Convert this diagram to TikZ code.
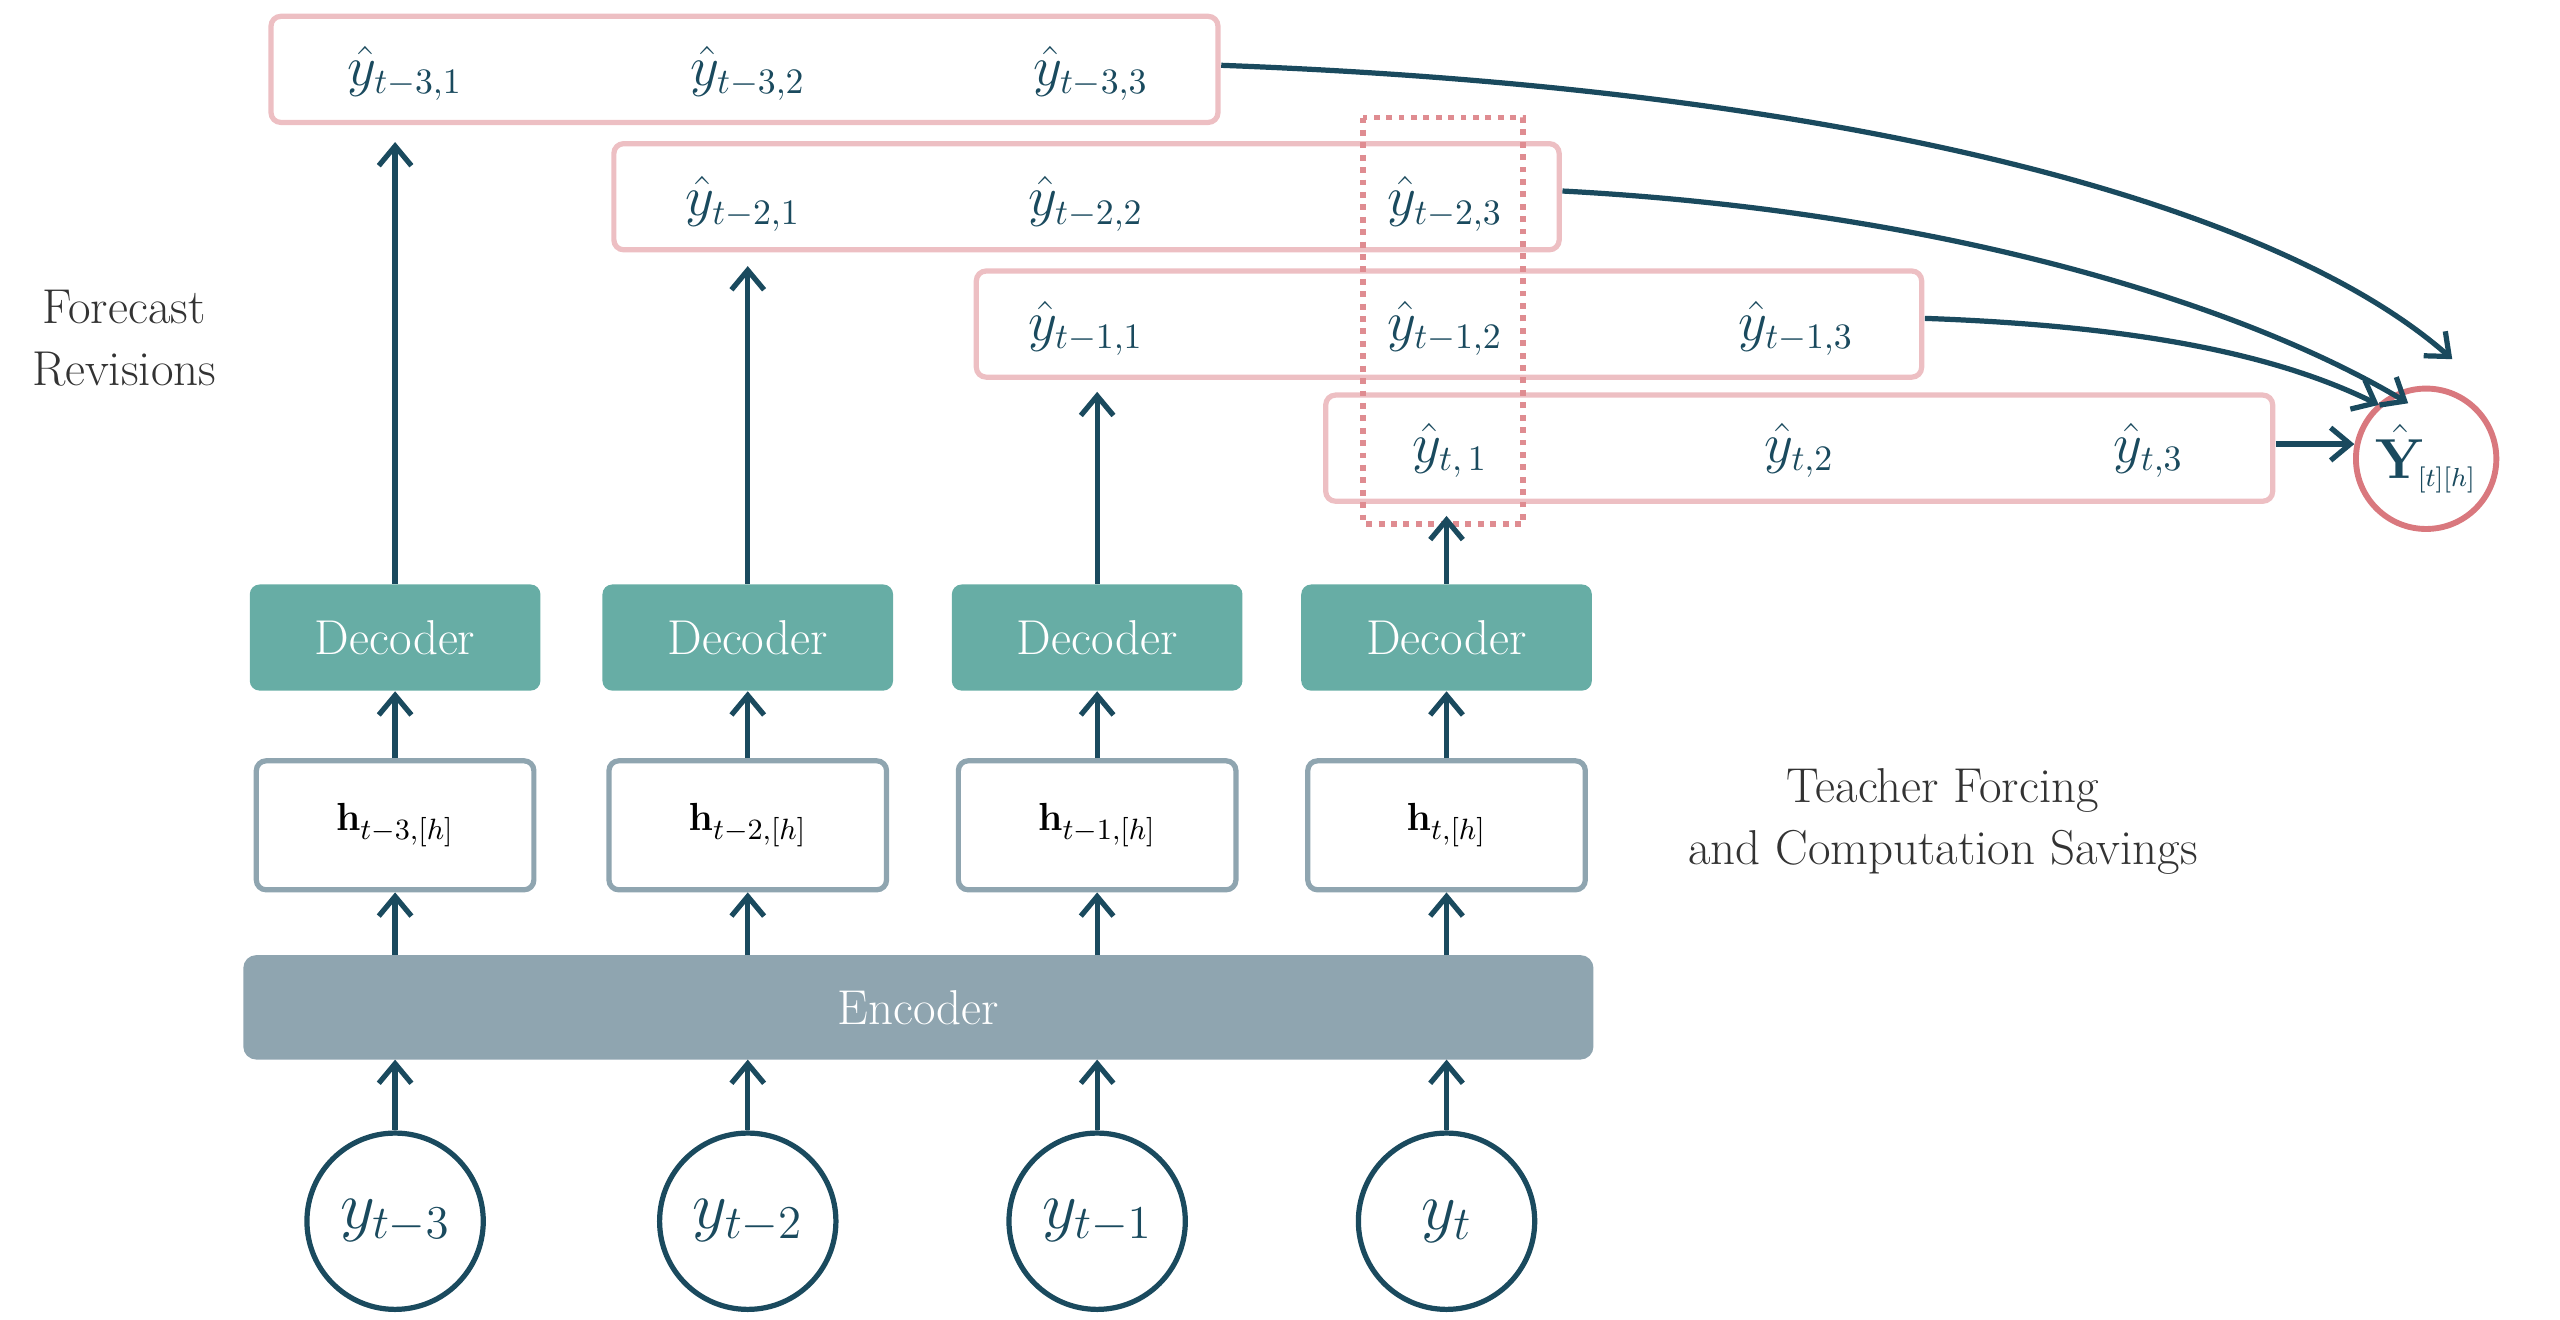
\documentclass[tikz,border=0pt]{standalone}
\usepackage{amsmath}
\usetikzlibrary{arrows.meta}
\definecolor{dk}{HTML}{1A4A5E}
\definecolor{tl}{HTML}{67ADA5}
\definecolor{gb}{HTML}{8FA5B0}
\definecolor{pk}{HTML}{EDBFC3}
\definecolor{pd}{HTML}{D9787E}
\begin{document}
\begin{tikzpicture}[x=0.5pt,y=-0.5pt,
  ar/.style={draw=dk,line width=1.6pt,-{Straight Barb[length=6pt,width=10pt,line width=1.6pt]}},
  rowbox/.style={draw=pk,line width=1.6pt,rounded corners=3pt},
  dec/.style={fill=tl,rounded corners=3pt,text=white,font=\fontsize{15}{18}\selectfont},
  hb/.style={draw=gb,line width=1.6pt,rounded corners=3pt,fill=white,text=black,font=\fontsize{13}{15}\selectfont},
  yc/.style={circle,draw=dk,line width=1.6pt,minimum size=54pt,inner sep=0pt,text=dk,font=\fontsize{21}{24}\selectfont},
  lab/.style={text=dk,font=\fontsize{16}{18}\selectfont},
  side/.style={align=center,font=\fontsize{15}{19}\selectfont,text=black!80}]
\useasboundingbox (0,0) rectangle (1568,808);
% rows
\draw[rowbox] (166,10) rectangle (746,75);
\draw[rowbox] (376,88) rectangle (955,153);
\draw[rowbox] (598,166) rectangle (1177,231);
\draw[rowbox] (812,242) rectangle (1392,307);
\coordinate (r1e) at (748,40);
\coordinate (r2e) at (957,117);
\coordinate (r3e) at (1179,195);
\coordinate (r4e) at (1394,272);
\coordinate (r4t) at (1442,272);
\draw[pd!85,line width=1.8pt,dotted] (835,72) rectangle (933,321);
\node[lab] (a1) at (248,45) {$\hat y_{t-3,1}$};
\node[lab] (a2) at (458,45) {$\hat y_{t-3,2}$};
\node[lab] (a3) at (668,45) {$\hat y_{t-3,3}$};
\node[lab] (b1) at (455,125) {$\hat y_{t-2,1}$};
\node[lab] (b2) at (665,125) {$\hat y_{t-2,2}$};
\node[lab] (b3) at (885,125) {$\hat y_{t-2,3}$};
\node[lab] (c1) at (665,201) {$\hat y_{t-1,1}$};
\node[lab] (c2) at (885,201) {$\hat y_{t-1,2}$};
\node[lab] (c3) at (1100,201) {$\hat y_{t-1,3}$};
\node[lab] (d1) at (888,276) {$\hat y_{t,\,1}$};
\node[lab] (d2) at (1102,276) {$\hat y_{t,2}$};
\node[lab] (d3) at (1316,276) {$\hat y_{t,3}$};
\node[circle,draw=pd,line width=1.8pt,minimum size=43pt,inner sep=0pt,text=dk,font=\fontsize{16}{18}\selectfont] (Y) at (1486,281) {$\hat{\mathbf Y}_{\!\scriptscriptstyle[t][h]}$};
\draw[ar] (r1e) .. controls (1150,55) and (1400,130) .. (1502,220);
\draw[ar] (r2e) .. controls (1200,130) and (1380,190) .. (1475,247);
\draw[ar] (r3e) .. controls (1320,200) and (1400,220) .. (1457,248);
\draw[ar] (r4e) -- (r4t);
% decoders, h, encoder, inputs
\foreach \i/\x/\lbl/\yl/\tg in {1/242/t-3/t-3/87, 2/458/t-2/t-2/163, 3/672/t-1/t-1/240, 4/886/t/t/316}{
  \node[dec,minimum width=89pt,minimum height=32.5pt] (dec\i) at (\x,390.5) {Decoder};
  \node[hb,minimum width=85pt,minimum height=39.5pt] (h\i) at (\x,505.5) {$\mathbf h_{\lbl,[h]}$};
  \node[yc] (y\i) at (\x,748) {$y_{\yl}$};
  \coordinate (t\i) at (\x,\tg);
  \draw[ar] (dec\i.north) -- (t\i);
  \draw[ar] (h\i.north) -- (dec\i.south);
}
\node[fill=gb,rounded corners=4pt,minimum width=413.5pt,minimum height=32pt,text=white,font=\fontsize{15}{18}\selectfont] (enc) at (562.5,617) {Encoder};
\foreach \i/\x in {1/242,2/458,3/672,4/886}{
  \draw[ar] (y\i.north) -- (\x,649);
  \draw[ar] (\x,585) -- (h\i.south);
}
\node[side] (fr) at (76,207) {Forecast\\Revisions};
\node[side] (tf) at (1190,503) {Teacher Forcing\\and Computation Savings};
\end{tikzpicture}
\end{document}
